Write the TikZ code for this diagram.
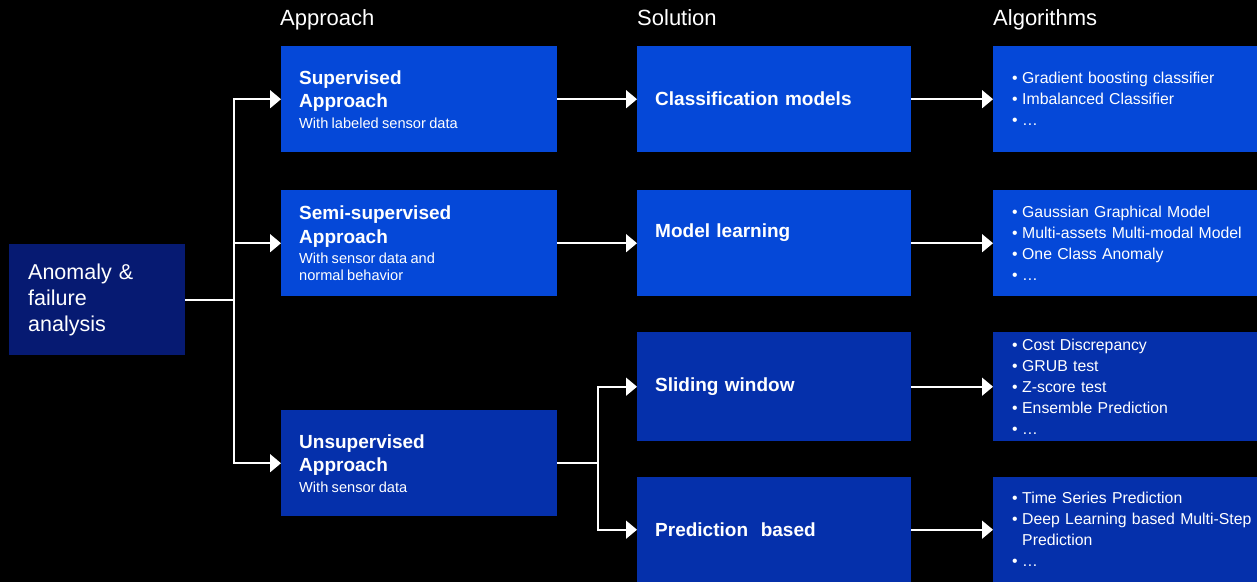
\documentclass[tikz,border=0pt]{standalone}
\usepackage{fontspec}
\setmainfont{Liberation Sans}
\usetikzlibrary{arrows.meta}
\definecolor{brightblue}{RGB}{5,72,216}
\definecolor{midblue}{RGB}{5,48,171}
\definecolor{deepblue}{RGB}{6,26,114}
\newcommand{\bitem}[1]{\par\hangindent=10pt\hangafter=1\noindent\makebox[10pt][l]{\textbullet}#1}
\newcommand{\ttl}[1]{{\fontsize{19}{23.5}\selectfont\bfseries #1\par}}
\newcommand{\sub}[1]{\vspace{4pt}{\fontsize{14.6}{16.5}\selectfont #1\par}}
\newcommand{\algstart}{\vspace*{-10pt}\leftskip=14pt\relax}
\tikzset{
  box/.style={anchor=north west, inner ysep=0pt, align=left, text=white},
  appbox/.style={box, fill=#1, minimum width=276pt, minimum height=106pt, text width=240pt, inner xsep=18pt},
  solbox/.style={box, fill=#1, minimum width=274pt, text width=238pt, inner xsep=18pt,
                 font=\fontsize{19}{23.5}\selectfont\bfseries},
  algbox/.style={box, fill=#1, minimum width=264pt, text width=254pt, inner xsep=5pt,
                 font=\fontsize{15.8}{21}\selectfont},
  header/.style={anchor=base west, inner sep=0pt, text=white, font=\fontsize{22}{26}\selectfont},
  conn/.style={draw=white, line width=1.6pt},
  arr/.style={conn, -{Triangle[length=11pt, width=18pt]}},
}
\begin{document}
\begin{tikzpicture}[x=1pt, y=-1pt]
  \fill[black] (0,0) rectangle (1257,582);
  \useasboundingbox (0,0) rectangle (1257,582);

  % headers
  \node[header] (hA) at (280,25) {Approach};
  \node[header] (hS) at (637,25) {Solution};
  \node[header] (hG) at (993,25) {Algorithms};

  % left box
  \node[box, fill=deepblue, minimum width=176pt, minimum height=111pt, text width=138pt, inner xsep=19pt,
        font=\fontsize{21.5}{26}\selectfont] (root) at (9,244) {Anomaly \&\\failure\\analysis};

  % approach boxes
  \node[appbox=brightblue] (sup) at (281,46) {\ttl{Supervised\\Approach}\sub{With labeled sensor data}};
  \node[appbox=brightblue] (semi) at (281,190) {\ttl{Semi-supervised\\Approach}\sub{With sensor data and\\normal behavior}};
  \node[appbox=midblue] (unsup) at (281,410) {\ttl{Unsupervised\\Approach}\sub{With sensor data}};

  % solution boxes
  \node[solbox=brightblue, minimum height=106pt] (cls) at (637,46) {Classification models};
  \node[solbox=brightblue, minimum height=106pt] (mdl) at (637,190) {Model learning\par\rule{0pt}{20pt}};
  \node[solbox=midblue, minimum height=109pt] (sld) at (637,332) {Sliding window};
  \node[solbox=midblue, minimum height=105pt] (prd) at (637,477) {Prediction\ \ based};

  % algorithm boxes
  \node[algbox=brightblue, minimum height=106pt] (a1) at (993,46) {\algstart
    \bitem{Gradient boosting classifier}\bitem{Imbalanced Classifier}\bitem{…}\par};
  \node[algbox=brightblue, minimum height=106pt] (a2) at (993,190) {\algstart
    \bitem{Gaussian Graphical Model}\bitem{Multi-assets Multi-modal Model}\bitem{One Class Anomaly}\bitem{…}\par};
  \node[algbox=midblue, minimum height=109pt] (a3) at (993,332) {\algstart
    \bitem{Cost Discrepancy}\bitem{GRUB test}\bitem{Z-score test}\bitem{Ensemble Prediction}\bitem{…}\par};
  \node[algbox=midblue, minimum height=105pt] (a4) at (993,477) {\algstart
    \bitem{Time Series Prediction}\bitem{Deep Learning based Multi-Step\newline Prediction}\bitem{…}\par};

  % junctions
  \coordinate (j1) at (root.east -| 234,0);
  \coordinate (j2) at (unsup.east -| 598,0);

  % connectors
  \draw[conn] (root.east) -- (j1);
  \draw[arr] (j1) |- (sup.west);
  \draw[arr] (j1) |- (semi.west);
  \draw[arr] (j1) |- (unsup.west);

  \draw[arr] (sup.east) -- (cls.west);
  \draw[arr] (semi.east) -- (semi.east -| mdl.west);
  \draw[conn] (unsup.east) -- (j2);
  \draw[arr] (j2) |- (sld.west);
  \draw[arr] (j2) |- (prd.west);

  \draw[arr] (cls.east) -- (a1.west);
  \draw[arr] (mdl.east) -- (a2.west);
  \draw[arr] (sld.east) -- (a3.west);
  \draw[arr] (prd.east) -- (a4.west);
\end{tikzpicture}
\end{document}
